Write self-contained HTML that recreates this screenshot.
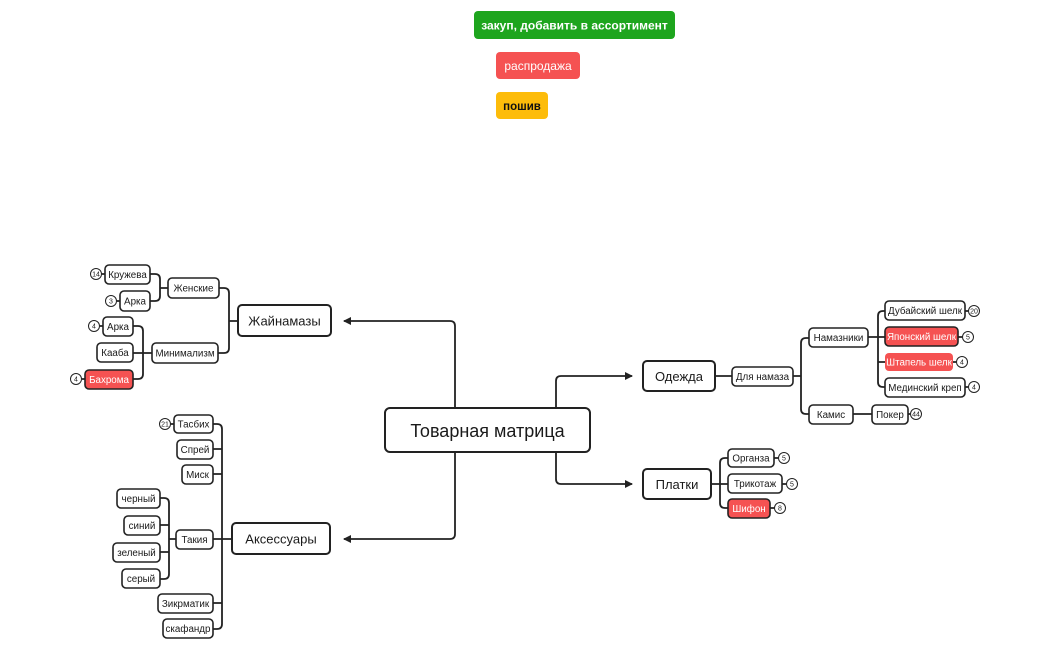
<!DOCTYPE html>
<html><head><meta charset="utf-8"><style>
html,body{margin:0;padding:0;background:#fff;width:1050px;height:650px;overflow:hidden}
svg text{font-family:"Liberation Sans",sans-serif;fill:#1a1a1a}
</style></head><body>
<svg width="1050" height="650" viewBox="0 0 1050 650" xmlns="http://www.w3.org/2000/svg">
<defs><marker id="ar" markerWidth="8" markerHeight="8" refX="7" refY="4" orient="auto" markerUnits="userSpaceOnUse"><path d="M0,0 L8,4 L0,8 z" fill="#222"/></marker></defs>
<rect x="474" y="11" width="201" height="28" rx="4" fill="#1ea51e"/>
<text x="574.5" y="29.5" font-size="12" font-weight="bold" text-anchor="middle" style="fill:#fff">закуп, добавить в ассортимент</text>
<rect x="496" y="52" width="84" height="27" rx="4" fill="#f55252"/>
<text x="538" y="70" font-size="12" text-anchor="middle" style="fill:#fff">распродажа</text>
<rect x="496" y="92" width="52" height="27" rx="4" fill="#fdbc0a"/>
<text x="522" y="110" font-size="11.5" font-weight="bold" text-anchor="middle" style="fill:#111">пошив</text>

<g fill="none" stroke="#222" stroke-width="1.8">
<path d="M455,408 V326 Q455,321 450,321 H344" marker-end="url(#ar)"/>
<path d="M455,452 V534 Q455,539 450,539 H344" marker-end="url(#ar)"/>
<path d="M556,408 V381 Q556,376 561,376 H632" marker-end="url(#ar)"/>
<path d="M556,452 V479 Q556,484 561,484 H632" marker-end="url(#ar)"/>
<path d="M238,321 H229 M219,288 H224 Q229,288 229,293 V348 Q229,353 224,353 H218"/>
<path d="M168,288 H160 M150,274 H155 Q160,274 160,279 V296 Q160,301 155,301 H150"/>
<path d="M152,353 H143 M133,326 H138 Q143,326 143,331 V374 Q143,379 138,379 H133 M133,353 H143"/>
<path d="M232,539 H213 M213,424 H217 Q222,424 222,429 V624 Q222,629 217,629 H213 M213,449 H222 M213,474 H222 M213,603 H222"/>
<path d="M176,539 H169 M160,498 H164 Q169,498 169,503 V574 Q169,579 164,579 H160 M160,525 H169 M160,552 H169"/>
<path d="M715,376 H732 M793,376 H801 M809,338 H806 Q801,338 801,343 V409 Q801,414 806,414 H809"/>
<path d="M853,414 H872"/>
<path d="M868,337 H885 M885,311 H883 Q878,311 878,316 V382 Q878,387 883,387 H885 M878,362 H885"/>
<path d="M711,484 H728 M728,458 H725 Q720,458 720,463 V503 Q720,508 725,508 H728"/>
<path d="M102,274 H105 M117,301 H120 M100,326 H103 M82,379 H85 M171,424 H174 M965,311 H968 M958,337 H962 M953,362 H956 M965,387 H968 M908,414 H910 M774,458 H778 M782,484 H786 M770,508 H774"/>
</g>

<g stroke="#222" stroke-width="2">
<rect x="385" y="408" width="205" height="44" rx="5" fill="#fff"/>
<rect x="238" y="305" width="93" height="31" rx="4" fill="#fff"/>
<rect x="232" y="523" width="98" height="31" rx="4" fill="#fff"/>
<rect x="643" y="361" width="72" height="30" rx="4" fill="#fff"/>
<rect x="643" y="469" width="68" height="30" rx="4" fill="#fff"/>
</g>
<text x="487.5" y="437" font-size="18" text-anchor="middle">Товарная матрица</text>
<text x="284.5" y="325.5" font-size="13" text-anchor="middle">Жайнамазы</text>
<text x="281" y="543.5" font-size="13" text-anchor="middle">Аксессуары</text>
<text x="679" y="381" font-size="13" text-anchor="middle">Одежда</text>
<text x="677" y="489" font-size="13" text-anchor="middle">Платки</text>

<g stroke="#222" stroke-width="1.6" fill="#fff">
<rect x="168" y="278" width="51" height="20" rx="4"/>
<rect x="152" y="343" width="66" height="20" rx="4"/>
<rect x="105" y="265" width="45" height="19" rx="4"/>
<rect x="120" y="291" width="30" height="20" rx="4"/>
<rect x="103" y="317" width="30" height="19" rx="4"/>
<rect x="97" y="343" width="36" height="19" rx="4"/>
<rect x="85" y="370" width="48" height="19" rx="4" fill="#f55252"/>
<rect x="174" y="415" width="39" height="18" rx="4"/>
<rect x="177" y="440" width="36" height="19" rx="4"/>
<rect x="182" y="465" width="31" height="19" rx="4"/>
<rect x="176" y="530" width="37" height="19" rx="4"/>
<rect x="158" y="594" width="55" height="19" rx="4"/>
<rect x="163" y="619" width="50" height="19" rx="4"/>
<rect x="117" y="489" width="43" height="19" rx="4"/>
<rect x="124" y="516" width="36" height="19" rx="4"/>
<rect x="113" y="543" width="47" height="19" rx="4"/>
<rect x="122" y="569" width="38" height="19" rx="4"/>
<rect x="732" y="367" width="61" height="19" rx="4"/>
<rect x="809" y="328" width="59" height="19" rx="4"/>
<rect x="809" y="405" width="44" height="19" rx="4"/>
<rect x="872" y="405" width="36" height="19" rx="4"/>
<rect x="885" y="301" width="80" height="19" rx="4"/>
<rect x="885" y="327" width="73" height="19" rx="4" fill="#f55252"/>
<rect x="885" y="353" width="68" height="18" rx="4" fill="#f55252" stroke="none"/>
<rect x="885" y="378" width="80" height="19" rx="4"/>
<rect x="728" y="449" width="46" height="18" rx="4"/>
<rect x="728" y="474" width="54" height="19" rx="4"/>
<rect x="728" y="499" width="42" height="19" rx="4" fill="#f55252"/>
</g>
<g font-size="9.8" text-anchor="middle">
<text x="193.5" y="291.5">Женские</text>
<text x="185" y="356.5">Минимализм</text>
<text x="127.5" y="278">Кружева</text>
<text x="135" y="304.5">Арка</text>
<text x="118" y="330">Арка</text>
<text x="115" y="356">Кааба</text>
<text x="109" y="383" style="fill:#fff">Бахрома</text>
<text x="193.5" y="427.5">Тасбих</text>
<text x="195" y="453">Спрей</text>
<text x="197.5" y="478">Миск</text>
<text x="194.5" y="543">Такия</text>
<text x="185.5" y="607">Зикрматик</text>
<text x="188" y="632">скафандр</text>
<text x="138.5" y="502">черный</text>
<text x="142" y="529">синий</text>
<text x="136.5" y="556">зеленый</text>
<text x="141" y="582">серый</text>
<text x="762.5" y="380">Для намаза</text>
<text x="838.5" y="341">Намазники</text>
<text x="831" y="418">Камис</text>
<text x="890" y="418">Покер</text>
<text x="925" y="314">Дубайский шелк</text>
<text x="921.5" y="340" style="fill:#fff">Японский шелк</text>
<text x="919" y="365.5" style="fill:#fff">Штапель шелк</text>
<text x="925" y="391">Мединский креп</text>
<text x="751" y="461.5">Органза</text>
<text x="755" y="487">Трикотаж</text>
<text x="749" y="512" style="fill:#fff">Шифон</text>
</g>
<g stroke="#222" stroke-width="1" fill="#fff">
<circle cx="96" cy="274" r="5.5"/><circle cx="111" cy="301" r="5.5"/><circle cx="94" cy="326" r="5.5"/>
<circle cx="76" cy="379" r="5.5"/><circle cx="165" cy="424" r="5.5"/><circle cx="974" cy="311" r="5.5"/>
<circle cx="968" cy="337" r="5.5"/><circle cx="962" cy="362" r="5.5"/><circle cx="974" cy="387" r="5.5"/>
<circle cx="916" cy="414" r="5.5"/><circle cx="784" cy="458" r="5.5"/><circle cx="792" cy="484" r="5.5"/>
<circle cx="780" cy="508" r="5.5"/>
</g>
<g font-size="7" text-anchor="middle">
<text x="96" y="276.5">14</text><text x="111" y="303.5">3</text><text x="94" y="328.5">4</text>
<text x="76" y="381.5">4</text><text x="165" y="426.5">21</text><text x="974" y="313.5">20</text>
<text x="968" y="339.5">5</text><text x="962" y="364.5">4</text><text x="974" y="389.5">4</text>
<text x="916" y="416.5">44</text><text x="784" y="460.5">5</text><text x="792" y="486.5">5</text>
<text x="780" y="510.5">8</text>
</g>
</svg>
</body></html>
